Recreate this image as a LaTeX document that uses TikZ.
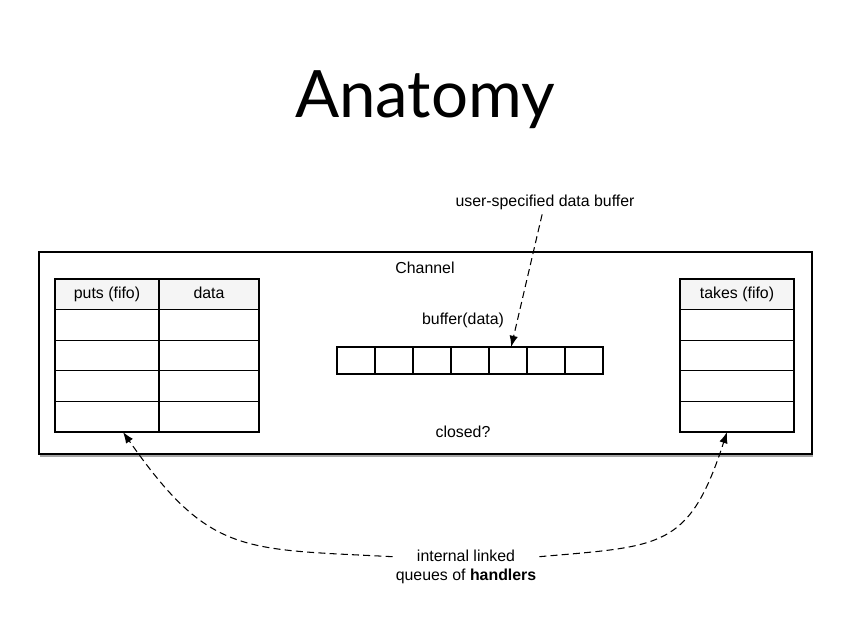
\documentclass[tikz,border=0pt]{standalone}
\usepackage{fontspec}
\setmainfont{Liberation Sans}
\newfontfamily\titlefont{Lato}
\usetikzlibrary{positioning, arrows.meta, calc, shadows}

\begin{document}
\begin{tikzpicture}[
  node distance=0pt,
  font=\fontsize{11.3}{14}\selectfont,
  % Estilos de celdas
  cell/.style={draw, rectangle, line width=0.8pt, outer sep=0pt, inner sep=0pt, minimum height=0.765cm,
    text height=1.75ex, text depth=0.5ex},
  headcell/.style={cell, fill=black!4},
  bufcell/.style={draw, rectangle, line width=0.8pt, outer sep=0pt, minimum width=0.95cm, minimum height=0.675cm},
  chanbox/.style={draw, rectangle, line width=0.9pt, fill=white, minimum width=19.325cm, minimum height=5.05cm,
    drop shadow={shadow xshift=0.8pt, shadow yshift=-2pt, fill=black!70, opacity=0.5}},
  % Estilos de flechas
  dashline/.style={draw, -{Latex[length=2.8mm, width=2.1mm]}, line width=0.75pt, dash pattern=on 5pt off 3pt}
]

  \useasboundingbox (0,0) rectangle (21.25,15.925);

  % Titulo
  \node[anchor=base, font=\titlefont\fontsize{46.5}{54}\selectfont] (title) at (10.625,12.975) {Anatomy};

  % ==========================================
  % CHANNEL
  % ==========================================
  \node[chanbox] (channel) at (10.6375,7.1) {};
  \node (chanlabel) at (10.625,9.225) {Channel};

  % Cola de puts
  \node[headcell, minimum width=2.6cm, anchor=north west] (puthead) at (1.375,8.95) {puts (fifo)};
  \node[headcell, minimum width=2.5cm, right=of puthead] (datahead) {data};
  \foreach \i/\prev in {1/puthead, 2/put1, 3/put2, 4/put3} {
    \node[cell, minimum width=2.6cm, below=of \prev] (put\i) {};
    \node[cell, minimum width=2.5cm, right=of put\i] (dat\i) {};
  }

  % Cola de takes
  \node[headcell, minimum width=2.85cm, anchor=north west] (takehead) at (17.0,8.95) {takes (fifo)};
  \foreach \i/\prev in {1/takehead, 2/tak1, 3/tak2, 4/tak3} {
    \node[cell, minimum width=2.85cm, below=of \prev] (tak\i) {};
  }

  % Buffer
  \node (buflabel) at (11.575,7.925) {buffer(data)};
  \node[bufcell, anchor=north west] (buf1) at (8.425,7.25) {};
  \foreach \prev [count=\i from 2] in {1,...,6} {
    \node[bufcell, right=of buf\prev] (buf\i) {};
  }

  \node (closed) at (11.575,5.125) {closed?};

  % ==========================================
  % ANNOTATIONS
  % ==========================================
  \node (userbuf) at (13.625,10.875) {user-specified data buffer};
  \node[align=center, inner sep=2pt] (handlers) at (11.65,1.75) {internal linked\\queues of \textbf{handlers}};

  \draw[dashline] (userbuf) -- (buf5);
  \draw[dashline] (handlers.172) to[out=177, in=-55, looseness=1.3] ([xshift=0.4cm]put4.south);
  \draw[dashline] (handlers.8) to[out=5, in=-108, looseness=1.4] ([xshift=-0.25cm]tak4.south);

\end{tikzpicture}
\end{document}
